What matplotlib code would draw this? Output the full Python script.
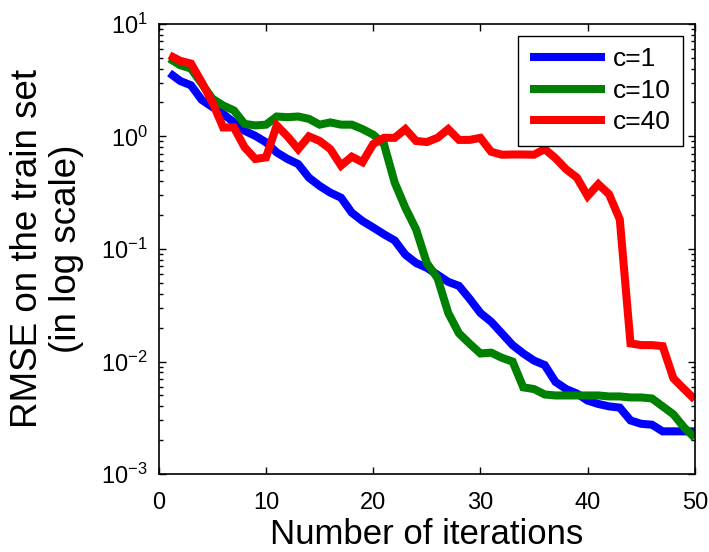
import matplotlib
matplotlib.use("Agg")
import matplotlib.pyplot as plt
from matplotlib.ticker import LogLocator, FixedLocator, NullFormatter

plt.rcParams['font.family'] = ['Liberation Sans', 'DejaVu Sans']
plt.rcParams['mathtext.fontset'] = 'custom'
plt.rcParams['mathtext.rm'] = 'Liberation Sans'
plt.rcParams['mathtext.default'] = 'regular'

iterations = list(range(1, 51))

c1 = [3.65, 3.1, 2.84, 2.11, 1.82, 1.58, 1.33, 1.12, 1.01, 0.885,
      0.72, 0.63, 0.567, 0.43, 0.363, 0.316, 0.285, 0.21, 0.177, 0.155,
      0.135, 0.119, 0.089, 0.075, 0.068, 0.059, 0.051, 0.047, 0.036, 0.027,
      0.0226, 0.0178, 0.014, 0.0118, 0.0102, 0.0093, 0.0066, 0.0057, 0.0052, 0.0045,
      0.0042, 0.0040, 0.0039, 0.0030, 0.0028, 0.00275, 0.0024, 0.0024, 0.0024, 0.0024]

c10 = [4.9, 4.28, 4.0, 2.94, 2.16, 1.88, 1.70, 1.29, 1.25, 1.27,
       1.5, 1.48, 1.5, 1.43, 1.27, 1.33, 1.27, 1.27, 1.16, 1.035,
       0.855, 0.389, 0.232, 0.149, 0.075, 0.055, 0.027, 0.0178, 0.0144, 0.0118,
       0.012, 0.0108, 0.0100, 0.0059, 0.0057, 0.0051, 0.0050, 0.0050, 0.0050, 0.0050,
       0.0050, 0.0049, 0.0049, 0.0048, 0.0048, 0.0047, 0.0040, 0.0034, 0.0026, 0.0021]

c40 = [5.25, 4.68, 4.43, 3.03, 2.0, 1.2, 1.2, 0.8, 0.63, 0.65,
       1.25, 1.0, 0.77, 1.0, 0.91, 0.77, 0.55, 0.66, 0.59, 0.855,
       0.97, 0.97, 1.16, 0.91, 0.89, 0.97, 1.16, 0.93, 0.93, 0.97,
       0.73, 0.687, 0.69, 0.69, 0.687, 0.77, 0.64, 0.51, 0.43, 0.295,
       0.376, 0.306, 0.183, 0.0145, 0.014, 0.014, 0.0137, 0.0071, 0.0057, 0.0046]

series = [("c=1", c1, "#0000ff"), ("c=10", c10, "#008000"), ("c=40", c40, "#ff0000")]

fig = plt.figure(figsize=(7.09, 5.52), dpi=100)
ax = fig.add_axes([0.224, 0.141, 0.756, 0.816])

for label, vals, col in series:
    ax.plot(iterations, vals, color=col, lw=5.8, label=label,
            solid_joinstyle='miter', solid_capstyle='butt')

ax.set_yscale('log')
ax.set_xlim(0, 50)
ax.set_ylim(1e-3, 1e1)
ax.xaxis.set_major_locator(FixedLocator([0, 10, 20, 30, 40, 50]))
ax.yaxis.set_major_locator(LogLocator(base=10, numticks=10))
ax.yaxis.set_minor_locator(LogLocator(base=10, subs=range(2, 10), numticks=20))
ax.yaxis.set_minor_formatter(NullFormatter())

ax.tick_params(which='both', direction='in', top=True, right=True, labelsize=17, width=1)
ax.tick_params(which='major', length=5)
ax.tick_params(which='minor', length=3)
ax.tick_params(axis='x', pad=13)
ax.tick_params(axis='y', pad=8)
for s in ax.spines.values():
    s.set_linewidth(1.2)

ax.set_xlabel("Number of iterations", fontsize=25, labelpad=3)
ax.set_ylabel("RMSE on the train set\n(in log scale)", fontsize=26.5, labelpad=12, linespacing=1.15)

leg = ax.legend(loc='upper right', fontsize=19, handlelength=2.85, handletextpad=0.3,
                labelspacing=0.28, borderaxespad=0.45, fancybox=False, framealpha=1,
                edgecolor='black', borderpad=0.45)
leg.get_frame().set_linewidth(1.0)

fig.savefig("out.png", dpi=100)
